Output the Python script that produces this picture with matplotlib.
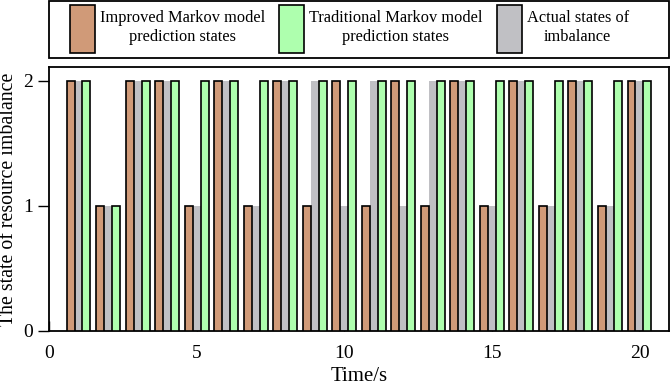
import numpy as np
import matplotlib
matplotlib.use("Agg")
import matplotlib.pyplot as plt
from matplotlib.patches import Patch, Rectangle

# values, one entry per second (t = 1..20)
time_s = list(range(1, 21))
improved = [2, 1, 2, 2, 1, 2, 1, 2, 1, 2, 1, 2, 1, 2, 1, 2, 1, 2, 1, 2]
actual = [2, 1, 2, 2, 1, 2, 1, 2, 2, 1, 2, 1, 2, 2, 1, 2, 1, 2, 1, 2]
traditional = [2, 1, 2, 2, 2, 2, 2, 2, 2, 2, 2, 2, 2, 2, 2, 2, 2, 2, 2, 2]

labels = ["Improved Markov model\nprediction states",
          "Traditional Markov model\nprediction states",
          "Actual states of\nimbalance"]
c_improved = "#D09A78"
c_traditional = "#AEFFAE"
c_actual = "#C0C0C4"

plt.rcParams["font.family"] = ["Liberation Serif", "DejaVu Serif"]

fig = plt.figure(figsize=(6.71, 3.87), dpi=100)
ax = fig.add_axes([0.073, 0.145, 0.924, 0.682])

x = np.array(time_s)
w = 0.27
# gray first, without edge, so the black edges of neighbours stay on top
ax.bar(x, actual, w, color=c_actual, linewidth=0, zorder=2)
ax.bar(x - w, improved, w, color=c_improved, edgecolor="black", linewidth=1.2, zorder=3)
ax.bar(x + w, traditional, w, color=c_traditional, edgecolor="black", linewidth=1.2, zorder=3)

ax.set_xlim(0, 21.0)
ax.set_ylim(0, 2.11)
ax.set_xticks([0, 5, 10, 15, 20])
ax.set_yticks([0, 1, 2])
ax.tick_params(axis="x", direction="in", length=7, width=1, labelsize=14, pad=10)
ax.tick_params(axis="y", direction="out", length=8, width=1, labelsize=14)
for s in ax.spines.values():
    s.set_linewidth(1.3)
ax.set_xlabel("Time/s", fontsize=15, labelpad=4)
ax.set_ylabel("The state of resource imbalance", fontsize=14.3, labelpad=4)

# legend sits in its own box above the axes
fig.add_artist(Rectangle((0.073, 0.850), 0.924, 0.147, transform=fig.transFigure,
                         facecolor="white", edgecolor="black", linewidth=1.3))
handles = [Patch(facecolor=c_improved, edgecolor="black", linewidth=1.2),
           Patch(facecolor=c_traditional, edgecolor="black", linewidth=1.2),
           Patch(facecolor=c_actual, edgecolor="black", linewidth=1.2)]
leg = fig.legend(handles, labels, loc="upper left", ncol=3,
                 bbox_to_anchor=(0.1043, 0.987), borderaxespad=0, borderpad=0,
                 fontsize=11.8, handlelength=1.53, handleheight=4.13,
                 handletextpad=0.3, columnspacing=0.85, frameon=False)
for t in leg.get_texts():
    t.set_multialignment("center")
    t.set_linespacing(1.3)

fig.savefig("out.png", dpi=100)
